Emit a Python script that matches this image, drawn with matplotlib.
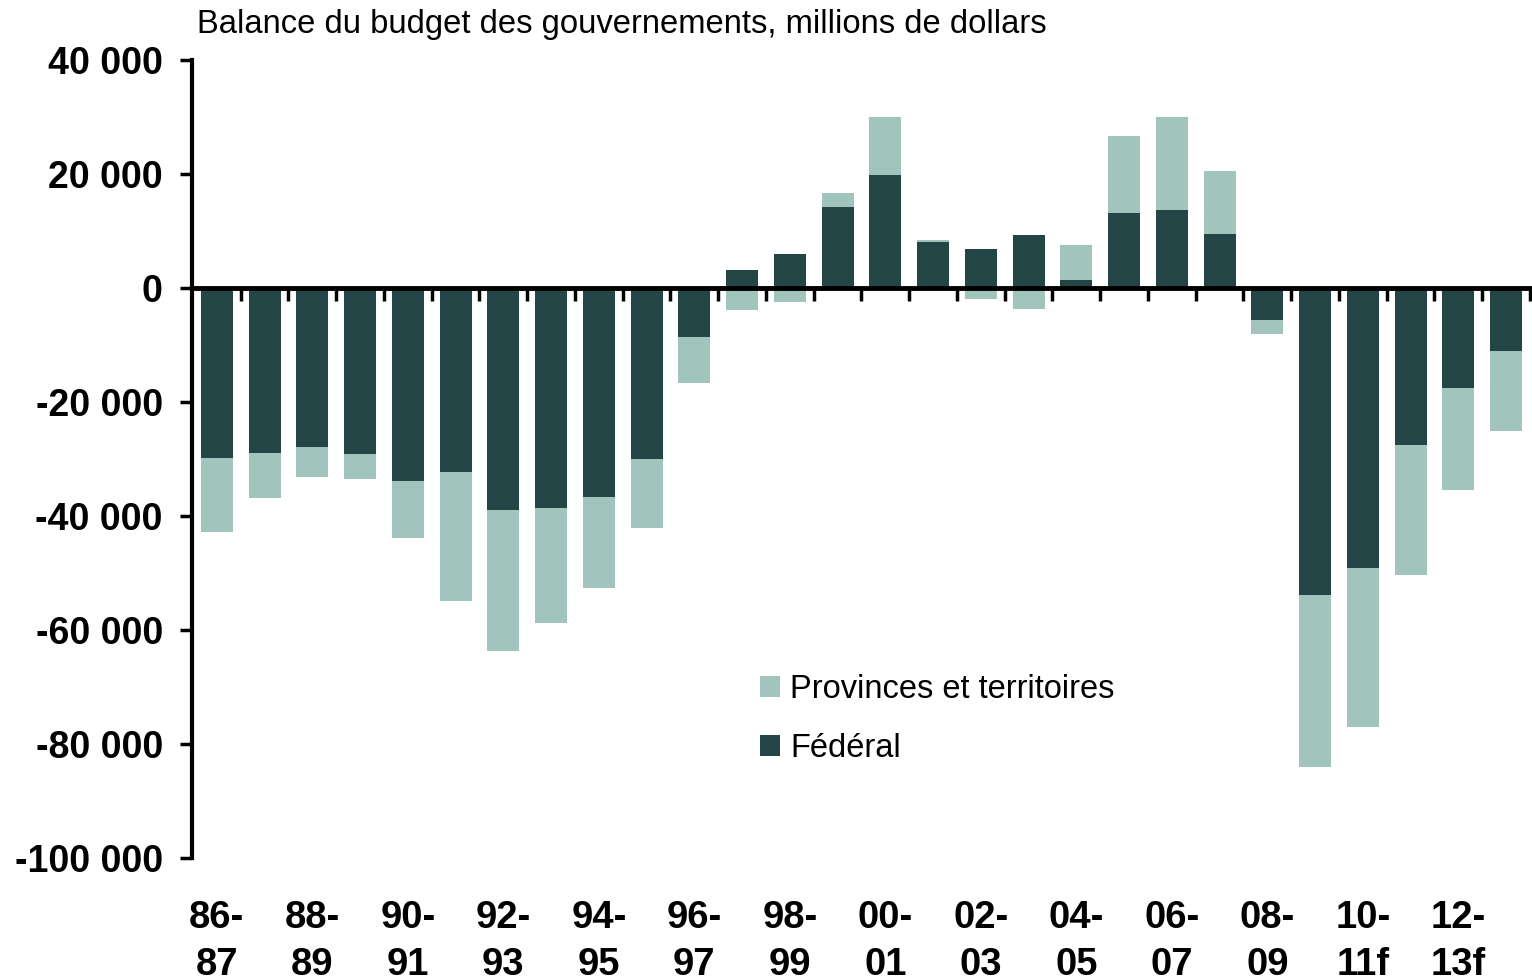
import numpy as np
import matplotlib
matplotlib.use("Agg")
import matplotlib.pyplot as plt
from matplotlib.transforms import blended_transform_factory

plt.rcParams['font.family'] = ['Liberation Sans', 'DejaVu Sans']

years = ["86-87", "87-88", "88-89", "89-90", "90-91", "91-92", "92-93", "93-94",
         "94-95", "95-96", "96-97", "97-98", "98-99", "99-00", "00-01", "01-02",
         "02-03", "03-04", "04-05", "05-06", "06-07", "07-08", "08-09", "09-10",
         "10-11f", "11-12f", "12-13f", "13-14f"]
federal = [-29800, -29000, -27900, -29100, -33900, -32300, -38900, -38600,
           -36700, -30000, -8600, 3200, 6000, 14200, 19800, 8100,
           6800, 9300, 1400, 13200, 13700, 9500, -5600, -53900,
           -49100, -27500, -17500, -11100]
provinces = [-13000, -7800, -5300, -4400, -10000, -22600, -24700, -20200,
             -16000, -12100, -8100, -3900, -2500, 2500, 10200, 300,
             -1900, -3700, 6100, 13500, 16300, 11000, -2500, -30200,
             -27900, -22800, -17900, -14000]
yticks = [40000, 20000, 0, -20000, -40000, -60000, -80000, -100000]
ytick_labels = ["40 000", "20 000", "0", "-20 000", "-40 000", "-60 000", "-80 000", "-100 000"]

dark = "#234545"
light = "#A1C4BD"

fig = plt.figure(figsize=(15.32, 9.8), dpi=100)
ax = fig.add_axes([192/1532, 1-858/980, (1530-192)/1532, (858-60)/980])

x = np.arange(len(years))
fed = np.array(federal)
prov = np.array(provinces)
prov_bottom = np.where(np.sign(prov) == np.sign(fed), fed, 0)

w = 0.67
ax.bar(x, fed, width=w, color=dark, label="Fédéral", zorder=2)
ax.bar(x, prov, bottom=prov_bottom, width=w, color=light, label="Provinces et territoires", zorder=2)

ax.set_xlim(-0.52, len(years) - 0.5)
ax.set_ylim(-100000, 40000)

ax.spines['top'].set_visible(False)
ax.spines['right'].set_visible(False)
ax.spines['left'].set_linewidth(3)
ax.spines['bottom'].set_position(('data', 0))
ax.spines['bottom'].set_linewidth(3.5)
ax.spines['bottom'].set_zorder(3)

ax.set_yticks(yticks)
ax.set_yticklabels(ytick_labels, fontsize=27, fontweight='bold')
ax.tick_params(axis='y', direction='out', length=9, width=2.5, pad=12)

ax.set_xticks(np.arange(len(years)) + 0.5)
ax.set_xticklabels([])
ax.tick_params(axis='x', direction='out', length=9, width=2.5)

trans = blended_transform_factory(ax.transData, fig.transFigure)
for i in range(0, len(years), 2):
    a, b = years[i].split("-")
    ax.text(i, 1 - 918/980, a + "-", transform=trans, ha='center', va='center',
            fontsize=27.5, fontweight='bold')
    ax.text(i, 1 - 965/980, b, transform=trans, ha='center', va='center',
            fontsize=27.5, fontweight='bold')

fig.text(197/1532, 1 - 24/980, "Balance du budget des gouvernements, millions de dollars",
         fontsize=23.6, ha='left', va='center')

handles, labels = ax.get_legend_handles_labels()
leg = ax.legend(handles[::-1], labels[::-1], loc='upper left',
                bbox_to_anchor=((760-192)/(1530-192), (858-674)/(858-60)),
                frameon=False, fontsize=23.5, handlelength=0.62, handleheight=0.62,
                handletextpad=0.3, labelspacing=0.85, borderaxespad=0, borderpad=0)

fig.savefig("out.png", dpi=100)
